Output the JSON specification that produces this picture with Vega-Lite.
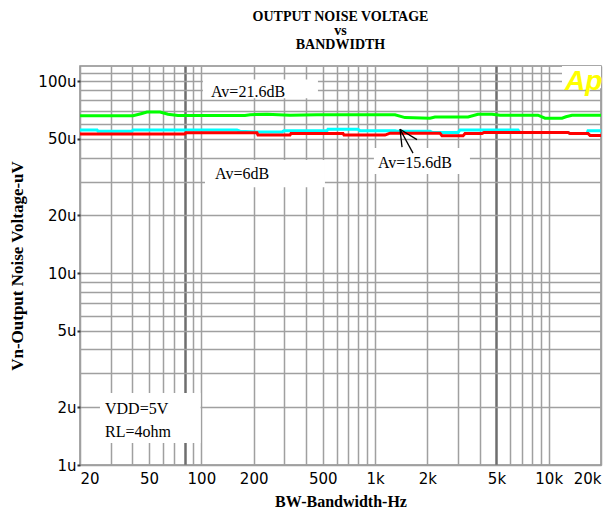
{
  "$schema": "https://vega.github.io/schema/vega-lite/v6.json",
  "width": 521,
  "height": 399,
  "autosize": {"type": "none"},
  "padding": {"left": 80, "top": 66, "right": 3, "bottom": 55},
  "background": "white",
  "title": {
    "text": ["OUTPUT NOISE VOLTAGE", "vs", "BANDWIDTH"],
    "font": "Liberation Serif",
    "fontSize": 14,
    "fontWeight": "bold",
    "lineHeight": 14,
    "anchor": "middle",
    "offset": 14,
    "color": "black"
  },
  "config": {
    "view": {"stroke": "#8c8c8c", "strokeWidth": 1.5}
  },
  "datasets": {
    "curves": [
      {"s": "g", "f": 20, "v": 66.1}, {"s": "g", "f": 40.4, "v": 66.1}, {"s": "g", "f": 44.9, "v": 67.7}, {"s": "g", "f": 48.6, "v": 69.0}, {"s": "g", "f": 57.8, "v": 69.0}, {"s": "g", "f": 64.2, "v": 67.3}, {"s": "g", "f": 73.3, "v": 66.3}, {"s": "g", "f": 178.3, "v": 66.3}, {"s": "g", "f": 190.5, "v": 66.9}, {"s": "g", "f": 238.6, "v": 67.3}, {"s": "g", "f": 323.8, "v": 66.5}, {"s": "g", "f": 463, "v": 66.9}, {"s": "g", "f": 1303, "v": 66.9}, {"s": "g", "f": 1487, "v": 64.6}, {"s": "g", "f": 2072, "v": 64.2}, {"s": "g", "f": 2214, "v": 65.0}, {"s": "g", "f": 3430, "v": 65.1}, {"s": "g", "f": 3914, "v": 67.3}, {"s": "g", "f": 4714, "v": 67.3}, {"s": "g", "f": 5240, "v": 66.5}, {"s": "g", "f": 8674, "v": 66.5}, {"s": "g", "f": 9520, "v": 64.2}, {"s": "g", "f": 11926, "v": 64.2}, {"s": "g", "f": 12574, "v": 65.3}, {"s": "g", "f": 13616, "v": 66.5}, {"s": "g", "f": 20000, "v": 66.5},
      {"s": "c", "f": 20, "v": 55.6}, {"s": "c", "f": 25.1, "v": 55.6}, {"s": "c", "f": 25.4, "v": 54.9}, {"s": "c", "f": 39.8, "v": 54.9}, {"s": "c", "f": 40.4, "v": 55.6}, {"s": "c", "f": 160.3, "v": 55.6}, {"s": "c", "f": 166.9, "v": 54.9}, {"s": "c", "f": 209, "v": 54.3}, {"s": "c", "f": 291.2, "v": 54.3}, {"s": "c", "f": 299, "v": 55.2}, {"s": "c", "f": 528.8, "v": 55.2}, {"s": "c", "f": 535.8, "v": 56.2}, {"s": "c", "f": 797.6, "v": 56.2}, {"s": "c", "f": 819, "v": 55.2}, {"s": "c", "f": 1303, "v": 55.2}, {"s": "c", "f": 1338, "v": 54.9}, {"s": "c", "f": 2072, "v": 54.9}, {"s": "c", "f": 2128, "v": 54.1}, {"s": "c", "f": 3004, "v": 54.1}, {"s": "c", "f": 3084, "v": 55.6}, {"s": "c", "f": 6654, "v": 55.6}, {"s": "c", "f": 6832, "v": 54.1}, {"s": "c", "f": 12914, "v": 54.1}, {"s": "c", "f": 13260, "v": 53.4}, {"s": "c", "f": 16614, "v": 53.4}, {"s": "c", "f": 16836, "v": 55.1}, {"s": "c", "f": 20000, "v": 55.1},
      {"s": "r", "f": 20, "v": 53.0}, {"s": "r", "f": 80, "v": 53.0}, {"s": "r", "f": 81.5, "v": 53.8}, {"s": "r", "f": 209, "v": 53.8}, {"s": "r", "f": 211.8, "v": 52.4}, {"s": "r", "f": 323.8, "v": 52.4}, {"s": "r", "f": 328, "v": 53.4}, {"s": "r", "f": 653.8, "v": 53.4}, {"s": "r", "f": 662.6, "v": 52.4}, {"s": "r", "f": 1141, "v": 52.4}, {"s": "r", "f": 1219, "v": 53.6}, {"s": "r", "f": 2366, "v": 53.6}, {"s": "r", "f": 2430, "v": 51.9}, {"s": "r", "f": 3210, "v": 51.9}, {"s": "r", "f": 3296, "v": 53.4}, {"s": "r", "f": 4128, "v": 53.4}, {"s": "r", "f": 4240, "v": 54.1}, {"s": "r", "f": 12914, "v": 54.1}, {"s": "r", "f": 13260, "v": 53.4}, {"s": "r", "f": 16836, "v": 53.4}, {"s": "r", "f": 17288, "v": 52.2}, {"s": "r", "f": 20000, "v": 52.2}
    ],
    "boxes": [
      {"f": 102, "f2": 469, "v": 81.5, "v2": 102},
      {"f": 104.9, "f2": 514.6, "v": 28.05, "v2": 38.8},
      {"f": 985, "f2": 3518, "v": 32.8, "v2": 44.8},
      {"f": 26.06, "f2": 98.9, "v": 1.302, "v2": 2.371},
      {"f": 11926, "f2": 20000, "v": 92, "v2": 120}
    ],
    "notes": [
      {"f": 113.6, "v": 87.7, "t": "Av=21.6dB"},
      {"f": 119.8, "v": 32.8, "t": "Av=6dB"},
      {"f": 1039, "v": 37.4, "t": "Av=15.6dB"},
      {"f": 27.86, "v": 1.957, "t": "VDD=5V"},
      {"f": 27.86, "v": 1.485, "t": "RL=4ohm"}
    ],
    "arrow": [
      {"f": 1392, "v": 56.2, "f2": 1430, "v2": 45.3},
      {"f": 1392, "v": 56.2, "f2": 1744, "v2": 49.6},
      {"f": 1392, "v": 56.2, "f2": 1654, "v2": 42.2}
    ],
    "logo": [
      {"f": 12408, "v": 89.8, "t": "Ap"}
    ]
  },
  "encoding": {
    "x": {
      "field": "f",
      "type": "quantitative",
      "scale": {"type": "log", "domain": [20, 20000], "nice": false},
      "axis": {
        "title": "BW-Bandwidth-Hz",
        "values": [20, 30, 40, 50, 60, 70, 80, 90, 100, 200, 300, 400, 500, 600, 700, 800, 900, 1000, 2000, 3000, 4000, 5000, 6000, 7000, 8000, 9000, 10000, 20000],
        "labelExpr": "indexof([20,50,100,200,500],datum.value)>=0 ? ''+datum.value : datum.value==1000 ? '1k' : datum.value==2000 ? '2k' : datum.value==5000 ? '5k' : datum.value==10000 ? '10k' : datum.value==20000 ? '20k' : ''",
        "labelFont": "DejaVu Sans",
        "labelFontSize": 15,
        "labelColor": "black",
        "labelFlush": true,
        "labelOverlap": false,
        "labelPadding": 6,
        "ticks": false,
        "domain": false,
        "grid": true,
        "gridColor": {"condition": {"test": "datum.value==80 || datum.value==5000", "value": "#6e6e6e"}, "value": "#a0a0a0"},
        "gridWidth": {"condition": {"test": "datum.value==80 || datum.value==5000", "value": 2.5}, "value": 1.5},
        "titleFont": "Liberation Serif",
        "titleFontSize": 16,
        "titleFontWeight": "bold",
        "titleColor": "black",
        "titlePadding": 7
      }
    },
    "y": {
      "field": "v",
      "type": "quantitative",
      "scale": {"type": "log", "domain": [1, 120], "nice": false},
      "axis": {
        "title": "Vn-Output Noise Voltage-uV",
        "values": [1, 2, 3, 4, 5, 6, 7, 8, 9, 10, 20, 30, 40, 50, 60, 70, 80, 90, 100, 110],
        "labelExpr": "indexof([1,2,5,10,20,50,100],datum.value)>=0 ? datum.value+'u' : ''",
        "labelFont": "DejaVu Sans",
        "labelFontSize": 15,
        "labelColor": "black",
        "labelOverlap": false,
        "labelPadding": 1,
        "tickSize": 3,
        "tickWidth": 2,
        "tickColor": "#333333",
        "tickOpacity": {"condition": {"test": "indexof([1,2,5,10,20,50,100],datum.value)>=0", "value": 1}, "value": 0},
        "domain": false,
        "grid": true,
        "gridColor": "#a0a0a0",
        "gridWidth": 1.5,
        "titleFont": "Liberation Serif",
        "titleFontSize": 17,
        "titleFontWeight": "bold",
        "titleColor": "black",
        "titlePadding": 11
      }
    }
  },
  "layer": [
    {
      "data": {"name": "boxes"},
      "mark": {"type": "rect", "fill": "white", "stroke": null},
      "encoding": {"x2": {"field": "f2"}, "y2": {"field": "v2"}}
    },
    {
      "data": {"name": "curves"},
      "transform": [{"filter": "datum.s == 'g'"}],
      "mark": {"type": "line", "color": "#00ff00", "strokeWidth": 3, "clip": true},
      "encoding": {}
    },
    {
      "data": {"name": "curves"},
      "transform": [{"filter": "datum.s == 'c'"}],
      "mark": {"type": "line", "color": "#00ffff", "strokeWidth": 3, "clip": true},
      "encoding": {}
    },
    {
      "data": {"name": "curves"},
      "transform": [{"filter": "datum.s == 'r'"}],
      "mark": {"type": "line", "color": "#ff0000", "strokeWidth": 3, "clip": true},
      "encoding": {}
    },
    {
      "data": {"name": "notes"},
      "mark": {"type": "text", "align": "left", "baseline": "middle", "font": "Liberation Serif", "fontSize": 16, "color": "black"},
      "encoding": {"text": {"field": "t"}}
    },
    {
      "data": {"name": "arrow"},
      "mark": {"type": "rule", "color": "black", "strokeWidth": 1.3},
      "encoding": {"x2": {"field": "f2"}, "y2": {"field": "v2"}}
    },
    {
      "data": {"name": "logo"},
      "mark": {"type": "text", "align": "left", "baseline": "alphabetic", "font": "Liberation Sans", "fontSize": 28, "fontWeight": "bold", "fontStyle": "italic", "color": "#ffff00"},
      "encoding": {"text": {"field": "t"}}
    }
  ]
}
